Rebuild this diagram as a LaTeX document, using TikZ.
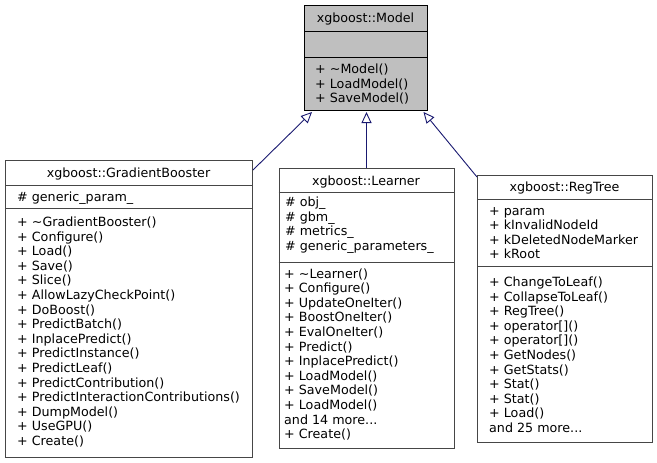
\documentclass[tikz,border=0pt]{standalone}
\usepackage{fontspec}
\setmainfont{DejaVu Sans}
\usetikzlibrary{arrows.meta}
\usetikzlibrary{calc}
\definecolor{modelgray}{RGB}{191,191,191}
\definecolor{boxedge}{RGB}{70,70,70}
\definecolor{inheritblue}{RGB}{25,25,112}
\tikzset{
    classbox/.style={draw=boxedge, line width=1pt, fill=white, inner sep=0pt, anchor=north west},
    classtitle/.style={anchor=base, inner sep=0pt, font=\fontsize{12.7}{14}\selectfont},
    member/.style={anchor=base west, inner sep=0pt, font=\fontsize{12.7}{14}\selectfont}
}
\newcommand{\threedots}{...}
\newcommand{\memberlist}[4]{\foreach [count=\i] \m in {#4} {
        \node[member] (#1\i) at (#2, {#3+14.6*(\i-1)}) {\m};
    }
}
\newcommand{\drawinherit}{\draw[inheritblue, line width=0.9pt, -{Triangle[open, length=11pt, width=10pt]}]}

\begin{document}
\begin{tikzpicture}[x=1pt, y=-1pt]
    \useasboundingbox (0,0) rectangle (657,463);

    % Draw class boxes
    \node[classbox, draw=black, fill=modelgray, minimum width=123pt, minimum height=105pt] (model) at (304,5) {};
    \node[classbox, minimum width=247pt, minimum height=297pt] (gb) at (5,160) {};
    \node[classbox, minimum width=175pt, minimum height=280pt] (learner) at (278.5,168) {};
    \node[classbox, minimum width=175pt, minimum height=267pt] (regtree) at (477,175) {};

    % Draw compartments
    \draw[black] ($(model.north west)+(0,26)$) -- ($(model.north east)+(0,26)$);
    \draw[black] ($(model.north west)+(0,52)$) -- ($(model.north east)+(0,52)$);
    \draw[boxedge] ($(gb.north west)+(0,25.5)$) -- ($(gb.north east)+(0,25.5)$);
    \draw[boxedge] ($(gb.north west)+(0,48.5)$) -- ($(gb.north east)+(0,48.5)$);
    \draw[boxedge] ($(learner.north west)+(0,24.5)$) -- ($(learner.north east)+(0,24.5)$);
    \draw[boxedge] ($(learner.north west)+(0,94.5)$) -- ($(learner.north east)+(0,94.5)$);
    \draw[boxedge] ($(regtree.north west)+(0,24)$) -- ($(regtree.north east)+(0,24)$);
    \draw[boxedge] ($(regtree.north west)+(0,91)$) -- ($(regtree.north east)+(0,91)$);

    % Draw titles
    \node[classtitle] (modelname) at (365.5,22) {xgboost::Model};
    \node[classtitle] (gbname) at (128.5,177.5) {xgboost::GradientBooster};
    \node[classtitle] (learnername) at (366,185) {xgboost::Learner};
    \node[classtitle] (regtreename) at (564.5,191.5) {xgboost::RegTree};

    % Draw members
    \memberlist{modelop}{315}{73.5}{+ \textasciitilde Model(), + LoadModel(), + SaveModel()}
    \memberlist{gbattr}{17}{201.5}{\# generic\_param\_}
    \memberlist{gbop}{17}{226.5}{+ \textasciitilde GradientBooster(), + Configure(), + Load(), + Save(),
        + Slice(), + AllowLazyCheckPoint(), + DoBoost(), + PredictBatch(), + InplacePredict(),
        + PredictInstance(), + PredictLeaf(), + PredictContribution(),
        + PredictInteractionContributions(), + DumpModel(), + UseGPU(), + Create()}
    \memberlist{learnerattr}{285}{206.5}{\# obj\_, \# gbm\_, \# metrics\_, \# generic\_parameters\_}
    \memberlist{learnerop}{284}{278}{+ \textasciitilde Learner(), + Configure(), + UpdateOneIter(),
        + BoostOneIter(), + EvalOneIter(), + Predict(), + InplacePredict(), + LoadModel(),
        + SaveModel(), + LoadModel(), and 14 more\threedots, + Create()}
    \memberlist{regtreeattr}{489}{215}{+ param, + kInvalidNodeId, + kDeletedNodeMarker, + kRoot}
    \memberlist{regtreeop}{489}{286.5}{+ ChangeToLeaf(), + CollapseToLeaf(), + RegTree(),
        + operator[](), + operator[](), + GetNodes(), + GetStats(), + Stat(), + Stat(),
        + Load(), and 25 more\threedots}

    % Draw inheritance
    \coordinate (gbfrom) at ($(gb.north east)+(0,10)$);
    \coordinate (regtreefrom) at ($(regtree.north west)+(0,2)$);
    \coordinate (gbto) at ($(model.south west)+(8,1)$);
    \coordinate (learnerto) at ($(model.south)+(0.5,1)$);
    \coordinate (regtreeto) at ($(model.south east)+(-4.5,1)$);
    \drawinherit (gbfrom) -- (gbto);
    \drawinherit (learner.north) -- (learnerto);
    \drawinherit (regtreefrom) -- (regtreeto);
\end{tikzpicture}
\end{document}
